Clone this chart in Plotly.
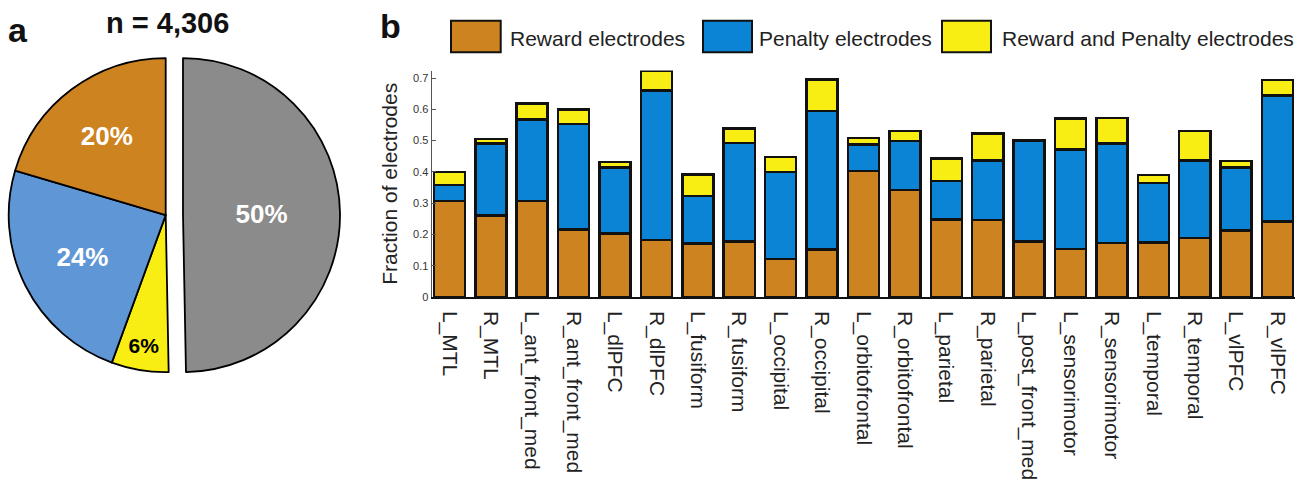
import plotly.graph_objects as go

# ---------------- data ----------------
# Panel a: electrode counts by response type (n = 4,306)
pie_labels = ["Neither", "Reward and Penalty", "Penalty", "Reward"]
pie_counts = [2140, 253, 1033, 880]
pie_colors = ["#8a8b8a", "#f9ee14", "#5f96d5", "#cd831f"]
pie_text_colors = ["white", "black", "white", "white"]
pie_text_sizes = [26, 21, 26, 26]

# Panel b: fraction of electrodes per region
regions = [
    "L_MTL", "R_MTL", "L_ant_front_med", "R_ant_front_med", "L_dlPFC", "R_dlPFC",
    "L_fusiform", "R_fusiform", "L_occipital", "R_occipital", "L_orbitofrontal",
    "R_orbitofrontal", "L_parietal", "R_parietal", "L_post_front_med",
    "L_sensorimotor", "R_sensorimotor", "L_temporal", "R_temporal", "L_vlPFC", "R_vlPFC",
]
reward = [0.307, 0.260, 0.307, 0.215, 0.203, 0.182, 0.171, 0.178, 0.122, 0.151, 0.403,
          0.342, 0.248, 0.246, 0.178, 0.153, 0.172, 0.174, 0.188, 0.213, 0.241]
penalty = [0.051, 0.231, 0.260, 0.338, 0.211, 0.478, 0.152, 0.315, 0.277, 0.444, 0.085,
           0.156, 0.123, 0.191, 0.322, 0.318, 0.319, 0.191, 0.249, 0.201, 0.403]
both = [0.041, 0.014, 0.051, 0.046, 0.017, 0.063, 0.069, 0.045, 0.049, 0.100, 0.020,
        0.032, 0.072, 0.085, 0.000, 0.099, 0.081, 0.025, 0.093, 0.020, 0.049]

series_names = ["Reward electrodes", "Penalty electrodes", "Reward and Penalty electrodes"]
series_colors = ["#cd831f", "#0b84d6", "#f9ee14"]

y_ticks = [0, 0.1, 0.2, 0.3, 0.4, 0.5, 0.6, 0.7]
y_tick_text = ["0", "0.1", "0.2", "0.3", "0.4", "0.5", "0.6", "0.7"]

# ---------------- layout constants ----------------
W, H = 1314, 483
FONT = "Liberation Sans, Arial, Helvetica, sans-serif"


def px_x(x):
    return x / W


def px_y(y):
    return 1 - y / H


fig = go.Figure()

# ---------------- panel a: pie ----------------
# The "Neither" wedge is drawn as a second, offset pie so that it sits apart
# from the other three wedges while both pies keep the same radius.
pie_cy = 217.8
pie_r = 159
main_cx = 165.7
sep_cx = 183.0


def pie_trace(cx, show):
    line_colors = ["black" if s else "rgba(0,0,0,0)" for s in show]
    fills = [c if s else "rgba(0,0,0,0)" for c, s in zip(pie_colors, show)]
    templates = ["%{percent:.0%}" if s else "" for s in show]
    return go.Pie(
        labels=pie_labels,
        values=pie_counts,
        sort=False,
        direction="clockwise",
        rotation=0,
        marker=dict(colors=fills, line=dict(color=line_colors, width=1.8)),
        texttemplate=templates,
        textposition="inside",
        insidetextorientation="horizontal",
        textfont=dict(family=FONT, color=pie_text_colors, size=pie_text_sizes, weight="bold"),
        domain=dict(x=[px_x(cx - pie_r), px_x(cx + pie_r)],
                    y=[px_y(pie_cy + pie_r), px_y(pie_cy - pie_r)]),
        showlegend=False,
        hoverinfo="skip",
    )


fig.add_trace(pie_trace(main_cx, [False, True, True, True]))
fig.add_trace(pie_trace(sep_cx, [True, False, False, False]))

# ---------------- panel b: stacked bars ----------------
for name, vals, col in zip(series_names, [reward, penalty, both], series_colors):
    fig.add_trace(go.Bar(
        x=regions, y=vals, name=name,
        marker=dict(color=col, line=dict(color="#111111", width=2.5)),
        width=0.75,
        showlegend=False,
        xaxis="x", yaxis="y",
    ))

fig.update_layout(
    width=W, height=H,
    margin=dict(l=0, r=0, t=0, b=0),
    paper_bgcolor="white",
    plot_bgcolor="white",
    barmode="stack",
    font=dict(family=FONT, color="#222222"),
    xaxis=dict(
        domain=[px_x(431.7), px_x(1294.9)],
        range=[-0.427, 20.418],
        showline=True, linecolor="#111111", linewidth=1.5,
        ticks="", tickangle=90,
        tickfont=dict(size=21, color="#222222", family=FONT),
        showgrid=False, zeroline=False,
        ticklabelstandoff=8,
    ),
    yaxis=dict(
        domain=[px_y(300.7), px_y(71.4)],
        range=[0, 0.724],
        showline=True, linecolor="#555555", linewidth=1.2,
        ticks="inside", ticklen=4, tickcolor="#555555",
        tickvals=y_ticks, ticktext=y_tick_text,
        tickfont=dict(size=11, color="#333333", family=FONT),
        showgrid=False, zeroline=False,
        title=dict(text="Fraction of electrodes", font=dict(size=21, color="#222222", family=FONT),
                   standoff=9),
    ),
)

# ---------------- legend for panel b ----------------
legend_boxes = [(451, 500.7), (703, 752), (942, 991)]
legend_text_x = [508, 757, 1000]
for (x0, x1), tx, name, col in zip(legend_boxes, legend_text_x, series_names, series_colors):
    fig.add_shape(type="rect", xref="paper", yref="paper",
                  x0=px_x(x0), x1=px_x(x1), y0=px_y(53), y1=px_y(21),
                  fillcolor=col, line=dict(color="#111111", width=2))
    fig.add_annotation(xref="paper", yref="paper", x=px_x(tx), y=px_y(39),
                       xanchor="left", yanchor="middle", showarrow=False,
                       text=name, font=dict(size=21, color="#222222", family=FONT))

# ---------------- panel letters and title ----------------
fig.add_annotation(xref="paper", yref="paper", x=px_x(18), y=px_y(30),
                   xanchor="center", yanchor="middle", showarrow=False,
                   text="<b>a</b>", font=dict(size=34, color="#111111", family=FONT))
fig.add_annotation(xref="paper", yref="paper", x=px_x(390), y=px_y(26),
                   xanchor="center", yanchor="middle", showarrow=False,
                   text="<b>b</b>", font=dict(size=34, color="#111111", family=FONT))
fig.add_annotation(xref="paper", yref="paper", x=px_x(167.5), y=px_y(23),
                   xanchor="center", yanchor="middle", showarrow=False,
                   text="<b>n = 4,306</b>", font=dict(size=29, color="#111111", family=FONT))

fig.write_html("out.html")
